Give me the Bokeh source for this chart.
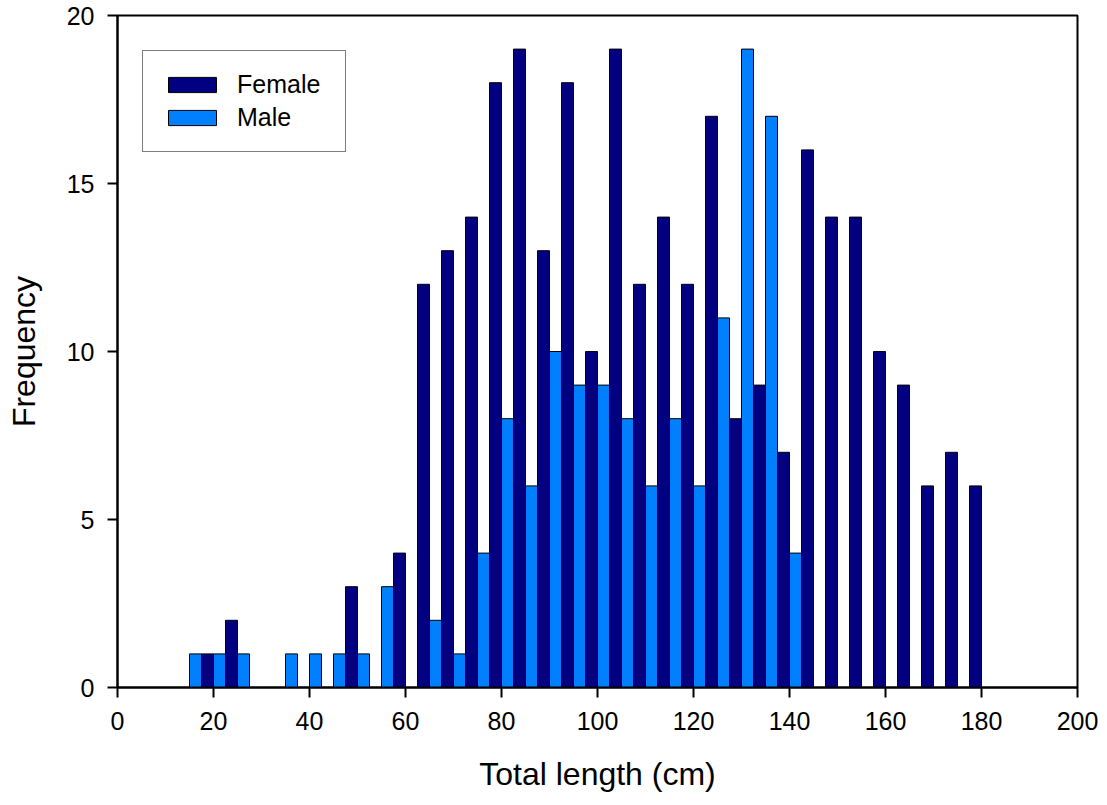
from bokeh.plotting import figure
from bokeh.models import Range1d, FixedTicker, Legend, LegendItem, ColumnDataSource
from bokeh.embed import file_html
from bokeh.resources import INLINE

# Data: 5 cm length classes (lower bound), counts per sex
bin_start = [15, 20, 25, 30, 35, 40, 45, 50, 55, 60, 65, 70, 75, 80, 85, 90, 95,
             100, 105, 110, 115, 120, 125, 130, 135, 140, 145, 150, 155, 160, 165, 170, 175]
male = [1, 1, 1, 0, 1, 1, 1, 1, 3, 0, 2, 1, 4, 8, 6, 10, 9,
        9, 8, 6, 8, 6, 11, 19, 17, 4, 0, 0, 0, 0, 0, 0, 0]
female = [1, 2, 0, 0, 0, 0, 3, 0, 4, 12, 13, 14, 18, 19, 13, 18, 10,
          19, 12, 14, 12, 17, 8, 9, 7, 16, 14, 14, 10, 9, 6, 7, 6]
bin_width = 5
x_ticks = list(range(0, 201, 20))
y_ticks = [0, 5, 10, 15, 20]

FONT = "Liberation Sans"
NAVY = "#000080"
BLUE = "#0080FF"

half = bin_width / 2.0
male_src = ColumnDataSource(dict(x=[b + half / 2 for b in bin_start], top=male))
female_src = ColumnDataSource(dict(x=[b + half + half / 2 for b in bin_start], top=female))

p = figure(width=1107, height=805, x_range=Range1d(0, 200), y_range=Range1d(0, 20),
           output_backend="svg", toolbar_location=None,
           min_border_left=117, min_border_right=30, min_border_top=15, min_border_bottom=118)

p.background_fill_color = "white"
p.border_fill_color = "white"
p.outline_line_color = "black"
p.outline_line_width = 2
p.xgrid.visible = False
p.ygrid.visible = False

r_male = p.vbar(x="x", top="top", bottom=0, width=half, source=male_src,
                fill_color=BLUE, line_color="black", line_width=1)
r_female = p.vbar(x="x", top="top", bottom=0, width=half, source=female_src,
                  fill_color=NAVY, line_color="black", line_width=1)

for ax in (p.xaxis[0], p.yaxis[0]):
    ax.axis_line_width = 2
    ax.axis_line_color = "black"
    ax.major_tick_line_width = 2
    ax.major_tick_line_color = "black"
    ax.major_tick_in = 0
    ax.major_tick_out = 10
    ax.minor_tick_line_color = None
    ax.major_label_text_font = FONT
    ax.major_label_text_font_size = "25px"
    ax.major_label_text_color = "black"
    ax.axis_label_text_font = FONT
    ax.axis_label_text_font_size = "32px"
    ax.axis_label_text_font_style = "normal"
    ax.axis_label_text_color = "black"

p.xaxis.ticker = FixedTicker(ticks=x_ticks)
p.yaxis.ticker = FixedTicker(ticks=y_ticks)
p.xaxis.axis_label = "Total length (cm)"
p.yaxis.axis_label = "Frequency"
p.xaxis.major_label_standoff = 14
p.yaxis.major_label_standoff = 13
p.xaxis.axis_label_standoff = 23
p.yaxis.axis_label_standoff = 22

legend = Legend(items=[LegendItem(label="Female", renderers=[r_female]),
                       LegendItem(label="Male", renderers=[r_male])],
                location=(25, 535), margin=0, padding=19, spacing=4,
                glyph_width=60, glyph_height=19, label_height=29, label_width=89,
                label_standoff=15, label_text_font=FONT, label_text_font_size="25px",
                label_text_color="black",
                border_line_color="black", border_line_width=1.5,
                background_fill_color="white", background_fill_alpha=1)
p.add_layout(legend, "center")

open("out.html", "w").write(file_html(p, INLINE))
